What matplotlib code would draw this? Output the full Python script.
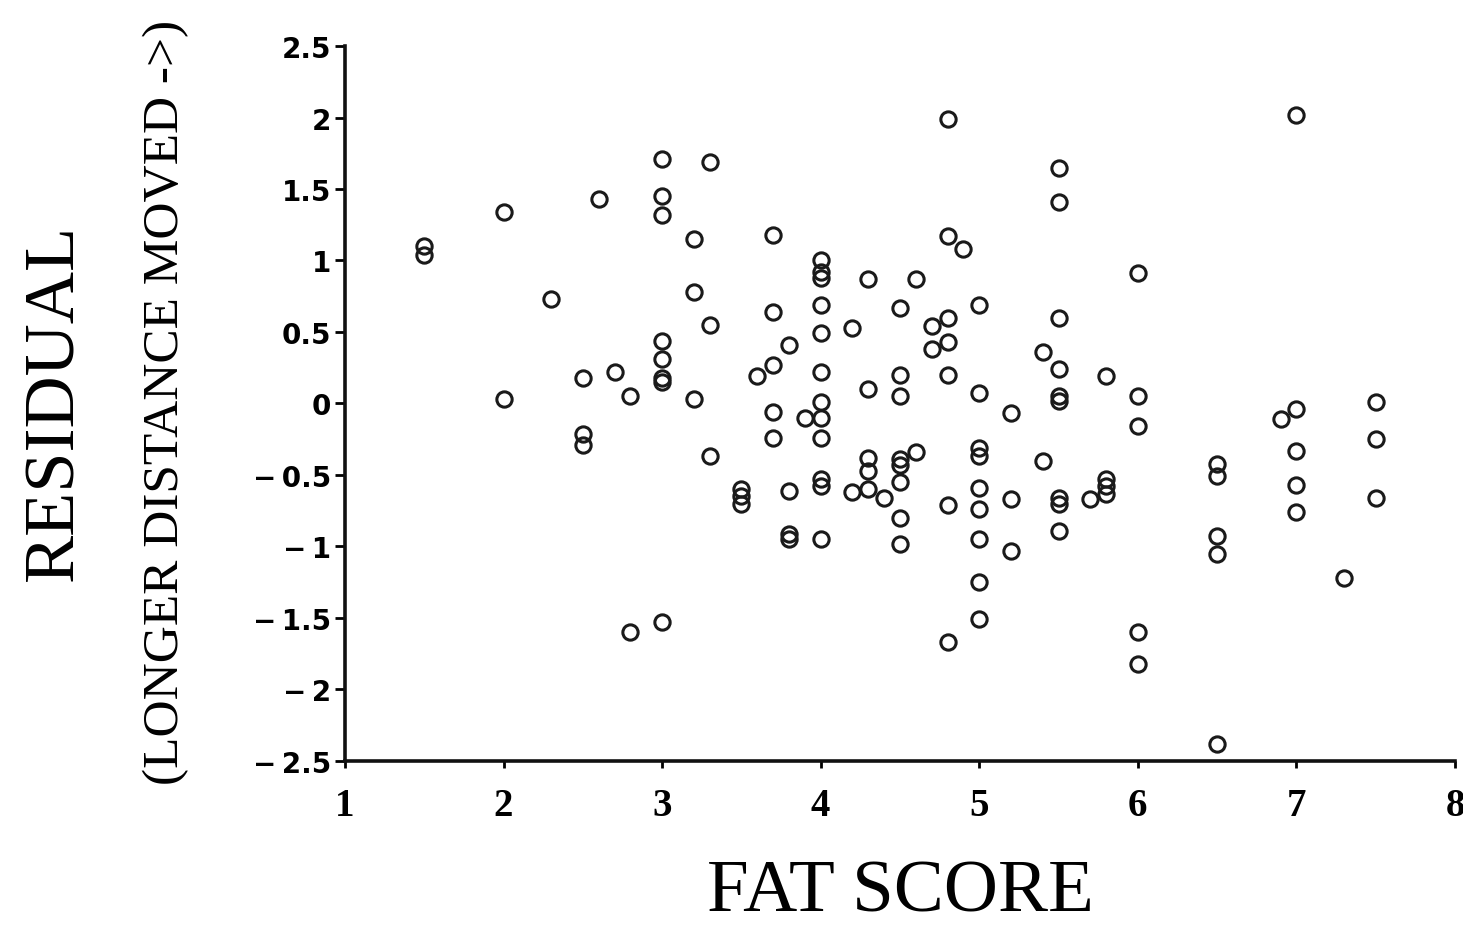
"""Residual vs fat score scatter, recreated from a scanned figure."""
import matplotlib
matplotlib.use("Agg")
import matplotlib.pyplot as plt

# fat score (x) and residual (y)
fat_score = [
    1.5, 1.5,
    2.0, 2.0,
    2.3,
    2.5, 2.5, 2.5,
    2.6,
    2.7,
    2.8, 2.8,
    3.0, 3.0, 3.0, 3.0, 3.0, 3.0, 3.0, 3.0,
    3.2, 3.2, 3.2,
    3.3, 3.3, 3.3,
    3.5, 3.5, 3.5,
    3.6,
    3.7, 3.7, 3.7, 3.7, 3.7,
    3.8, 3.8, 3.8, 3.8,
    3.9,
    4.0, 4.0, 4.0, 4.0, 4.0, 4.0, 4.0, 4.0, 4.0, 4.0, 4.0, 4.0,
    4.2, 4.2,
    4.3, 4.3, 4.3, 4.3, 4.3,
    4.4,
    4.5, 4.5, 4.5, 4.5, 4.5, 4.5, 4.5, 4.5,
    4.6, 4.6,
    4.7, 4.7,
    4.8, 4.8, 4.8, 4.8, 4.8, 4.8, 4.8,
    4.9,
    5.0, 5.0, 5.0, 5.0, 5.0, 5.0, 5.0, 5.0, 5.0,
    5.2, 5.2, 5.2,
    5.4, 5.4,
    5.5, 5.5, 5.5, 5.5, 5.5, 5.5, 5.5, 5.5, 5.5,
    5.7,
    5.8, 5.8, 5.8, 5.8,
    6.0, 6.0, 6.0, 6.0, 6.0,
    6.5, 6.5, 6.5, 6.5, 6.5,
    6.9,
    7.0, 7.0, 7.0, 7.0, 7.0,
    7.3,
    7.5, 7.5, 7.5,
]
residual = [
    1.10, 1.04,
    1.34, 0.03,
    0.73,
    0.18, -0.21, -0.29,
    1.43,
    0.22,
    0.05, -1.60,
    1.71, 1.45, 1.32, 0.44, 0.31, 0.18, 0.15, -1.53,
    1.15, 0.78, 0.03,
    1.69, 0.55, -0.37,
    -0.60, -0.65, -0.70,
    0.19,
    1.18, 0.64, 0.27, -0.06, -0.24,
    0.41, -0.61, -0.91, -0.95,
    -0.10,
    1.00, 0.92, 0.88, 0.69, 0.49, 0.22, 0.01, -0.10, -0.24, -0.53, -0.58, -0.95,
    0.53, -0.62,
    0.87, 0.10, -0.38, -0.47, -0.60,
    -0.66,
    0.67, 0.20, 0.05, -0.39, -0.43, -0.55, -0.80, -0.98,
    0.87, -0.34,
    0.54, 0.38,
    1.99, 1.17, 0.60, 0.43, 0.20, -0.71, -1.67,
    1.08,
    0.69, 0.07, -0.31, -0.37, -0.59, -0.74, -0.95, -1.25, -1.51,
    -0.07, -0.67, -1.03,
    0.36, -0.40,
    1.65, 1.41, 0.60, 0.24, 0.05, 0.02, -0.66, -0.70, -0.89,
    -0.67,
    0.19, -0.53, -0.58, -0.63,
    0.91, 0.05, -0.16, -1.60, -1.82,
    -0.42, -0.51, -0.93, -1.05, -2.38,
    -0.11,
    2.02, -0.04, -0.33, -0.57, -0.76,
    -1.22,
    0.01, -0.25, -0.66,
]

x_ticks = [1, 2, 3, 4, 5, 6, 7, 8]
y_ticks = [-2.5, -2, -1.5, -1, -0.5, 0, 0.5, 1, 1.5, 2, 2.5]

fig = plt.figure(figsize=(14.63, 9.29), dpi=100)
ax = fig.add_axes([0.2358, 0.1798, 0.7587, 0.7696])

ax.plot(fat_score, residual, linestyle="none", marker="o", markersize=11,
        markerfacecolor="none", markeredgecolor="#1a1a1a", markeredgewidth=2.2)

ax.set_xlim(1, 8)
ax.set_ylim(-2.5, 2.5)
ax.spines["top"].set_visible(False)
ax.spines["right"].set_visible(False)
for side in ("left", "bottom"):
    ax.spines[side].set_linewidth(2.6)
    ax.spines[side].set_color("#111111")

ax.set_xticks(x_ticks)
ax.set_xticklabels([str(t) for t in x_ticks], family="Liberation Serif",
                   fontsize=28, fontweight="bold")
ax.set_yticks(y_ticks)
ax.set_yticklabels([f"{t:g}".replace("-", "\u2212\u2009") for t in y_ticks],
                   family="DejaVu Sans", fontsize=20, fontweight="bold")
ax.tick_params(axis="x", direction="out", length=5, width=2, pad=14)
ax.tick_params(axis="y", direction="out", length=7, width=2, pad=3)

fig.text(0.5 * (0.2358 + 0.9945), 1 - 912 / 929, "FAT SCORE",
         family="Liberation Serif", fontsize=54, ha="center", va="baseline")
fig.text(0.0375, 0.567, "RESIDUAL", family="Liberation Serif", fontsize=52,
         rotation=90, ha="center", va="center")
fig.text(0.1135, 0.567, "(LONGER DISTANCE MOVED ->)", family="Liberation Serif",
         fontsize=37, rotation=90, ha="center", va="center")

fig.savefig("out.png", dpi=100)
